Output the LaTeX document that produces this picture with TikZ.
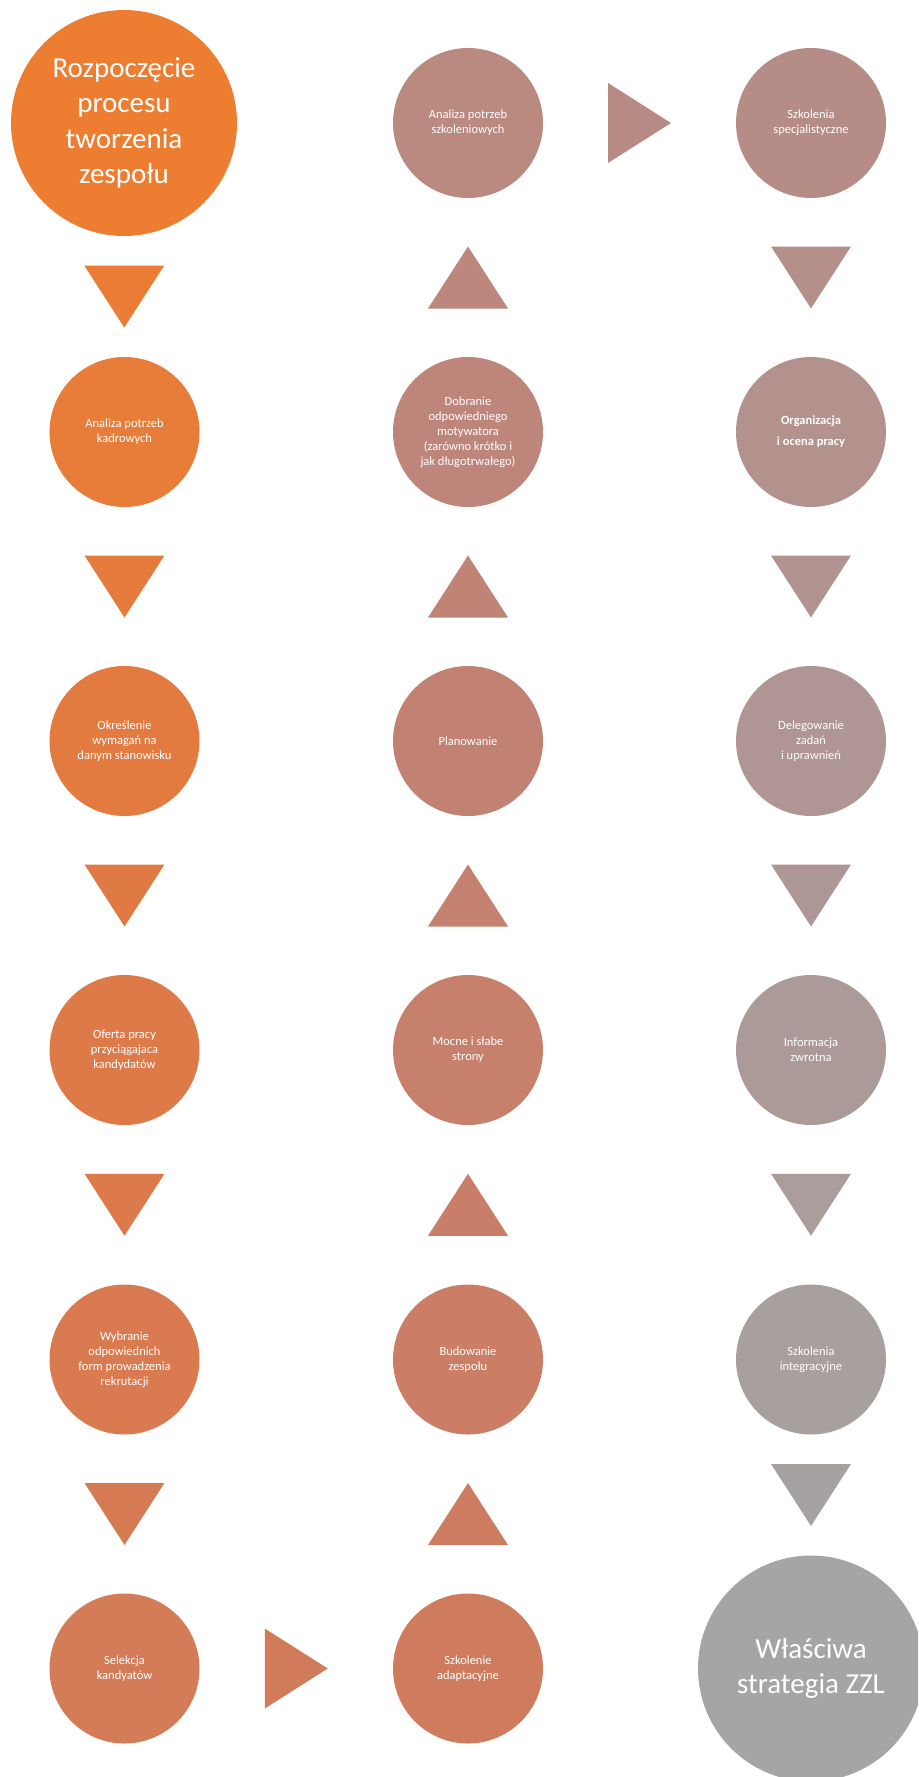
\documentclass[tikz,border=0pt]{standalone}
\usepackage{fontspec}
\setmainfont{Carlito}
\usetikzlibrary{calc}
% stage colours: orange fading to grey along the process
\definecolor{c0}{HTML}{ED7D31}
\definecolor{c1}{HTML}{E87C39}
\definecolor{c2}{HTML}{E37B41}
\definecolor{c3}{HTML}{DE7A48}
\definecolor{c4}{HTML}{D97A50}
\definecolor{c5}{HTML}{D47B57}
\definecolor{c6}{HTML}{CF7C5E}
\definecolor{c7}{HTML}{CB7D65}
\definecolor{c8}{HTML}{C7806C}
\definecolor{c9}{HTML}{C28273}
\definecolor{c10}{HTML}{BE857A}
\definecolor{c11}{HTML}{BA8980}
\definecolor{c12}{HTML}{B68C87}
\definecolor{c13}{HTML}{B3918D}
\definecolor{c14}{HTML}{AF9593}
\definecolor{c15}{HTML}{AC9A99}
\definecolor{c16}{HTML}{A89F9F}
\definecolor{c17}{HTML}{A5A5A5}
\tikzset{
  stage/.style={circle, inner sep=0pt, minimum size=150pt, text=white,
    align=center, font=\fontsize{12.5}{15}\selectfont},
  bigstage/.style={stage, minimum size=226pt, font=\fontsize{29}{35.5}\selectfont},
  tri down/.pic={\fill[#1] (-40,31) -- (40,31) -- (0,-31) -- cycle;},
  tri up/.pic={\fill[#1] (-40,-31) -- (40,-31) -- (0,31) -- cycle;},
  tri right/.pic={\fill[#1] (-31.5,40) -- (31.5,0) -- (-31.5,-40) -- cycle;},
}
\begin{document}
\begin{tikzpicture}[x=1pt, y=1pt]
\useasboundingbox (0,0) rectangle (918,-1777);
\clip (0,0) rectangle (918,-1777);

% first column (top to bottom)
\node[bigstage, fill=c0] (n0) at (124,-123) {Rozpoczęcie\\procesu\\tworzenia\\zespołu};
\node[stage, fill=c1] (n1) at (124.5,-432) {Analiza potrzeb\\kadrowych};
\node[stage, fill=c2] (n2) at (124.5,-741) {Określenie\\wymagań na\\danym stanowisku};
\node[stage, fill=c3] (n3) at (124.5,-1050) {Oferta pracy\\przyciągajaca\\kandydatów};
\node[stage, fill=c4] (n4) at (124.5,-1359.5) {Wybranie\\odpowiednich\\form prowadzenia\\rekrutacji};
\node[stage, fill=c5] (n5) at (124.5,-1668.5) {Selekcja\\kandyatów};

% second column (bottom to top)
\node[stage, fill=c6] (n6) at (468,-1668.5) {Szkolenie\\adaptacyjne};
\node[stage, fill=c7] (n7) at (468,-1359.5) {Budowanie\\zespołu};
\node[stage, fill=c8] (n8) at (468,-1050) {Mocne i słabe\\strony};
\node[stage, fill=c9] (n9) at (468,-741) {Planowanie};
\node[stage, fill=c10] (n10) at (468,-432) {Dobranie\\odpowiedniego\\motywatora\\(zarówno krótko i\\jak długotrwałego)};
\node[stage, fill=c11] (n11) at (468,-123) {Analiza potrzeb\\szkoleniowych};

% third column (top to bottom)
\node[stage, fill=c12] (n12) at (811,-123) {Szkolenia\\specjalistyczne};
\node[stage, fill=c13] (n13) at (811,-432) {\textbf{Organizacja}\\[6pt]\textbf{i ocena pracy}};
\node[stage, fill=c14] (n14) at (811,-741) {Delegowanie\\zadań\\i uprawnień};
\node[stage, fill=c15] (n15) at (811,-1050) {Informacja\\zwrotna};
\node[stage, fill=c16] (n16) at (811,-1359.5) {Szkolenia\\integracyjne};
\node[bigstage, fill=c17] (n17) at (811,-1668.5) {Właściwa\\strategia ZZL};

% arrows between consecutive stages
\pic at ($(n0.south)!.5!(n1.north)$) {tri down=c0!50!c1};
\pic at ($(n1.south)!.5!(n2.north)$) {tri down=c1!50!c2};
\pic at ($(n2.south)!.5!(n3.north)$) {tri down=c2!50!c3};
\pic at ($(n3.south)!.5!(n4.north)$) {tri down=c3!50!c4};
\pic at ($(n4.south)!.5!(n5.north)$) {tri down=c4!50!c5};
\pic at ($(n5.east)!.5!(n6.west)$) {tri right=c5!50!c6};
\pic at ($(n6.north)!.5!(n7.south)$) {tri up=c6!50!c7};
\pic at ($(n7.north)!.5!(n8.south)$) {tri up=c7!50!c8};
\pic at ($(n8.north)!.5!(n9.south)$) {tri up=c8!50!c9};
\pic at ($(n9.north)!.5!(n10.south)$) {tri up=c9!50!c10};
\pic at ($(n10.north)!.5!(n11.south)$) {tri up=c10!50!c11};
\pic at ($(n11.east)!.5!(n12.west)$) {tri right=c11!50!c12};
\pic at ($(n12.south)!.5!(n13.north)$) {tri down=c12!50!c13};
\pic at ($(n13.south)!.5!(n14.north)$) {tri down=c13!50!c14};
\pic at ($(n14.south)!.5!(n15.north)$) {tri down=c14!50!c15};
\pic at ($(n15.south)!.5!(n16.north)$) {tri down=c15!50!c16};
\pic at ($(n16.south)!.5!(n17.north)$) {tri down=c16!50!c17};
\end{tikzpicture}
\end{document}
